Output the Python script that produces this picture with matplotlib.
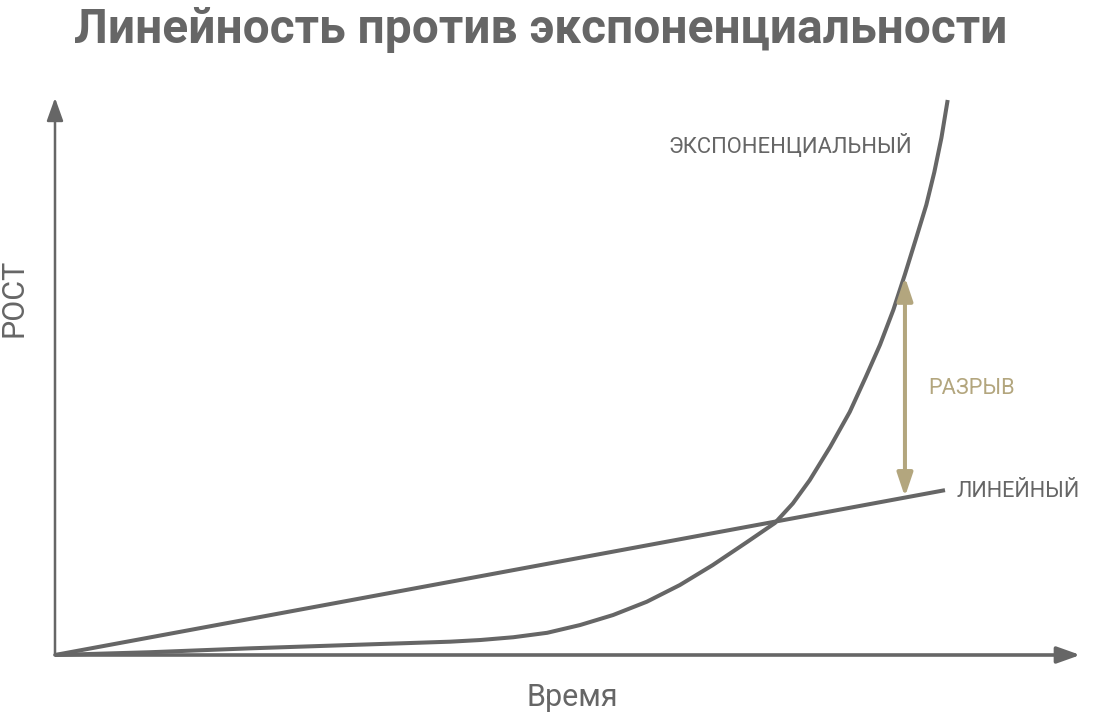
import matplotlib
matplotlib.use('Agg')
import matplotlib.pyplot as plt

# time / growth values
exp_t = [0.00, 1.07, 2.19, 3.31, 3.88, 4.44, 4.78, 5.15, 5.53, 5.90, 6.27, 6.65,
         7.02, 7.39, 7.78, 8.09, 8.29, 8.48, 8.71, 8.93, 9.11, 9.27, 9.42, 9.55,
         9.67, 9.79, 9.88, 9.96, 10.03]
exp_g = [0.00, 0.05, 0.12, 0.18, 0.21, 0.24, 0.27, 0.32, 0.40, 0.54, 0.72, 0.96,
         1.26, 1.62, 2.04, 2.38, 2.73, 3.15, 3.75, 4.38, 5.01, 5.59, 6.22, 6.86,
         7.48, 8.11, 8.70, 9.32, 10.00]
lin_t = [0.0, 10.0]
lin_g = [0.0, 2.97]

gap_t = 9.55
gap_low = 2.85
gap_high = 6.81

x_end = 11.52
y_end = 10.04

title = 'Линейность против экспоненциальности'
xlabel = 'Время'
ylabel = 'РОСТ'
exp_label = 'ЭКСПОНЕНЦИАЛЬНЫЙ'
lin_label = 'ЛИНЕЙНЫЙ'
gap_label = 'РАЗРЫВ'

grey = '#666666'
tan = '#b3a67e'

plt.rcParams['font.family'] = ['Roboto', 'DejaVu Sans']

W, H = 1094, 717
fig = plt.figure(figsize=(W/100, H/100), dpi=100)
ax = fig.add_axes([55/W, (H-655)/H, 890/W, 555/H])
ax.set_xlim(0, 10)
ax.set_ylim(0, 10)
ax.axis('off')

ax.plot(lin_t, lin_g, color=grey, lw=2.9, clip_on=False, solid_capstyle='butt')
ax.plot(exp_t, exp_g, color=grey, lw=2.9, clip_on=False, solid_capstyle='butt',
        solid_joinstyle='round')

# axes with arrows
ax.annotate('', xy=(x_end, 0), xytext=(0, 0), annotation_clip=False,
            arrowprops=dict(arrowstyle='-|>,head_length=14,head_width=5', mutation_scale=1,
                            color=grey, lw=2.6, shrinkA=0, shrinkB=0))
ax.annotate('', xy=(0, y_end), xytext=(0, 0), annotation_clip=False,
            arrowprops=dict(arrowstyle='-|>,head_length=14,head_width=5', mutation_scale=1,
                            color=grey, lw=1.8, shrinkA=0, shrinkB=0))

# gap arrow
ax.annotate('', xy=(gap_t, gap_high), xytext=(gap_t, gap_low), annotation_clip=False,
            arrowprops=dict(arrowstyle='<|-|>,head_length=14,head_width=4.7', mutation_scale=1,
                            color=tan, lw=2.9, shrinkA=0, shrinkB=0))

ax.text(9.63, 9.17, exp_label, ha='right', va='center', fontsize=15.8, color=grey)
ax.text(10.13, 2.94, lin_label, ha='left', va='center', fontsize=15.7, color=grey)
ax.text(9.81, 4.81, gap_label, ha='left', va='center', fontsize=15.7, color=tan)

fig.text(541/W, 1-30/H, title, ha='center', va='center', fontsize=34.5,
         fontweight='bold', color=grey)
fig.text(572/W, 1-697/H, xlabel, ha='center', va='center', fontsize=22, color=grey)
fig.text(14/W, 1-298/H, ylabel, ha='center', va='center', fontsize=22, color=grey,
         rotation=90)

fig.savefig('out.png', dpi=100)
